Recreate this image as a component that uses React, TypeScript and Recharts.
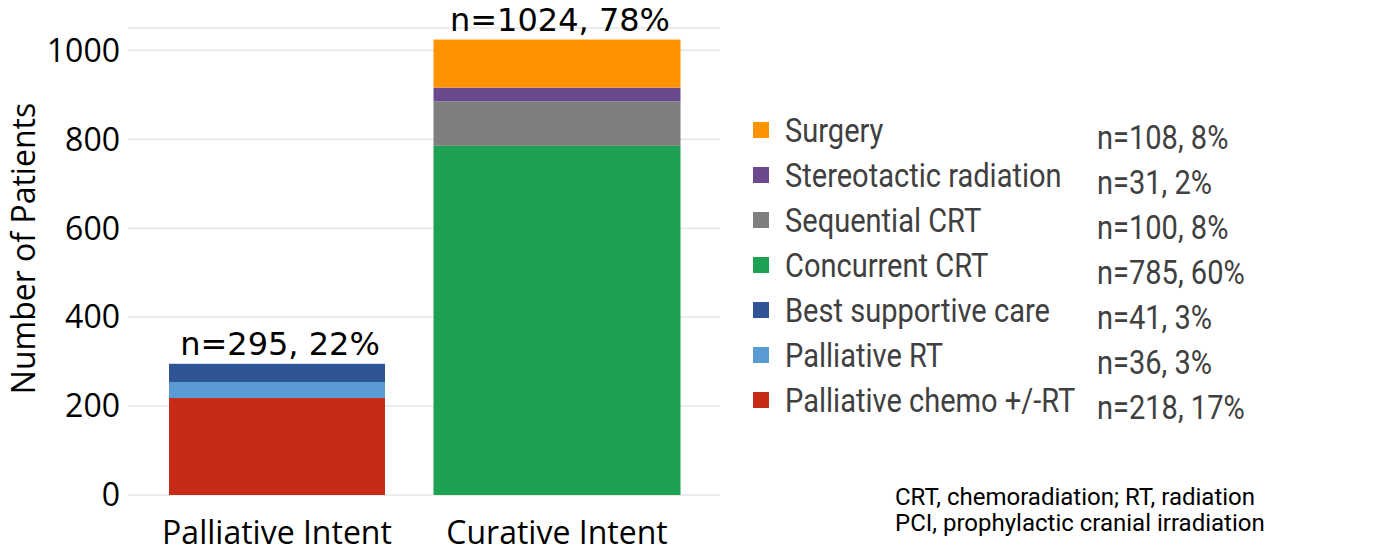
import React from 'react';
import { BarChart, Bar, XAxis, YAxis, CartesianGrid, LabelList, Label } from 'recharts';

const categories = ['Palliative Intent', 'Curative Intent'];
const chemoRT = [218, 0];
const palliativeRT = [36, 0];
const bestSupportive = [41, 0];
const concurrentCRT = [0, 785];
const sequentialCRT = [0, 100];
const stereotactic = [0, 31];
const surgery = [0, 108];
const yTicks = [0, 200, 400, 600, 800, 1000];

const seriesDefs = [
  { key: 'chemo', name: 'Palliative chemo +/-RT', values: chemoRT, color: '#c62c15' },
  { key: 'prt', name: 'Palliative RT', values: palliativeRT, color: '#5b9bd5' },
  { key: 'bsc', name: 'Best supportive care', values: bestSupportive, color: '#2f5597' },
  { key: 'ccrt', name: 'Concurrent CRT', values: concurrentCRT, color: '#1da152' },
  { key: 'scrt', name: 'Sequential CRT', values: sequentialCRT, color: '#7f7f7f' },
  { key: 'sbrt', name: 'Stereotactic radiation', values: stereotactic, color: '#6a4a8c' },
  { key: 'surg', name: 'Surgery', values: surgery, color: '#ff9200' },
];

const totals = categories.map((_, i) => seriesDefs.reduce((s, d) => s + d.values[i], 0));
const grandTotal = totals.reduce((a, b) => a + b, 0);
const pct = (v: number) => Math.round((v / grandTotal) * 100);

const data = categories.map((c, i) => {
  const row: any = { category: c, totalLabel: `n=${totals[i]}, ${pct(totals[i])}%` };
  seriesDefs.forEach((d) => (row[d.key] = d.values[i]));
  return row;
});

const BAR_WIDTHS = [216, 247];

const BarShape = (props: any) => {
  const { x, y, width, height, fill, index } = props;
  const idx = typeof index === 'number' ? index : categories.indexOf(props?.payload?.category);
  const w = BAR_WIDTHS[idx] ?? width;
  const cx = x + width / 2;
  if (!height || height <= 0) return null;
  return <rect x={cx - w / 2} y={y} width={w} height={height} fill={fill} />;
};

const TotalLabel = (props: any) => {
  const { x, y, width, value } = props;
  return (
    <text
      x={x + width / 2 + 3}
      y={y - 9}
      textAnchor="middle"
      fontFamily="DejaVu Sans"
      fontSize={32}
      fill="#000"
    >
      {value}
    </text>
  );
};

const legendFont = 'Roboto, "Noto Sans", sans-serif';

const narrowText = (size: number): React.CSSProperties => ({
  fontFamily: legendFont,
  fontSize: size,
  color: '#404040',
  whiteSpace: 'nowrap',
  transform: 'scaleX(0.88)',
  transformOrigin: 'left center',
});

export default function App() {
  const legendItems = [...seriesDefs].reverse();
  return (
    <div style={{ position: 'relative', width: 1399, height: 555, margin: '-8px 0 0 -8px' }}>
      <BarChart
        width={1399}
        height={555}
        data={data}
        margin={{ top: 28, right: 679, bottom: 0, left: 0 }}
      >
        <CartesianGrid vertical={false} stroke="#e6e6e6" strokeWidth={1.5} />
        <XAxis
          dataKey="category"
          axisLine={false}
          tickLine={false}
          tickSize={0}
          tickMargin={26}
          height={60}
          padding={{ left: 9, right: 23 }}
          tick={{ fontFamily: '"Open Sans", sans-serif', fontSize: 32, fill: '#000' }}
          interval={0}
        />
        <YAxis
          width={128}
          domain={[0, 1050]}
          ticks={yTicks}
          axisLine={false}
          tickLine={false}
          tickSize={0}
          tickMargin={8}
          tick={{ fontFamily: '"Open Sans", sans-serif', fontSize: 32, fill: '#000' }}
        >
          <Label
            content={(p: any) => {
              const vb = p.viewBox || { x: 0, y: 28, height: 467 };
              const cx = vb.x + 35;
              const cy = vb.y + vb.height / 2 - 13;
              return (
                <text
                  x={cx}
                  y={cy}
                  transform={`rotate(-90, ${cx}, ${cy})`}
                  textAnchor="middle"
                  fontFamily='"Open Sans", sans-serif'
                  fontSize={32}
                  fill="#000"
                >
                  Number of Patients
                </text>
              );
            }}
          />
        </YAxis>
        {seriesDefs.map((d, si) => (
          <Bar
            key={d.key}
            dataKey={d.key}
            name={d.name}
            stackId="a"
            fill={d.color}
            isAnimationActive={false}
            shape={<BarShape />}
          >
            {si === seriesDefs.length - 1 && (
              <LabelList dataKey="totalLabel" content={<TotalLabel />} />
            )}
          </Bar>
        ))}
      </BarChart>

      {legendItems.map((d, i) => {
        const top = 122 + i * 45;
        const total = d.values.reduce((a, b) => a + b, 0);
        return (
          <React.Fragment key={d.key}>
            <div
              style={{
                position: 'absolute',
                left: 753,
                top,
                width: 16,
                height: 16,
                background: d.color,
              }}
            />
            <div
              style={{
                position: 'absolute',
                left: 785,
                top: top - 13,
                height: 44,
                lineHeight: '44px',
                ...narrowText(33),
              }}
            >
              {d.name}
            </div>
            <div
              style={{
                position: 'absolute',
                left: 1097,
                top: top - 6,
                height: 44,
                lineHeight: '44px',
                ...narrowText(33),
              }}
            >
              {`n=${total}, ${pct(total)}%`}
            </div>
          </React.Fragment>
        );
      })}

      <div
        style={{
          position: 'absolute',
          left: 895,
          top: 484,
          fontFamily: legendFont,
          fontSize: 24,
          lineHeight: '26px',
          color: '#000',
          whiteSpace: 'nowrap',
        }}
      >
        <div>CRT, chemoradiation; RT, radiation</div>
        <div>PCI, prophylactic cranial irradiation</div>
      </div>
    </div>
  );
}
